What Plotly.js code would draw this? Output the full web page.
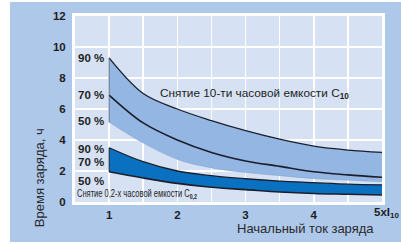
<!DOCTYPE html>
<html><head><meta charset="utf-8">
<script src="https://cdn.plot.ly/plotly-3.0.1.min.js"></script>
<style>
html,body{margin:0;padding:0;background:#ffffff;}
#chart{position:absolute;left:10px;top:2px;width:391px;height:240px;}
</style></head>
<body><div id="chart"></div>
<script>
// Initial charge current (multiples of I10)
const current = [1, 1.5, 2, 2.5, 3, 3.5, 4, 4.5, 5];
// Charge time, h — discharge of 10-hour capacity C10
const c10_90 = [9.3, 7.0, 6.0, 5.25, 4.6, 4.05, 3.6, 3.35, 3.2];
const c10_70 = [6.9, 5.1, 4.0, 3.2, 2.65, 2.3, 1.95, 1.75, 1.6];
const c10_50 = [5.15, 3.8, 2.75, 2.2, 1.9, 1.7, 1.5, 1.4, 1.3];
// Charge time, h — discharge of 0.2-hour capacity C0.2
const c02_90 = [3.5, 2.6, 2.0, 1.7, 1.5, 1.35, 1.25, 1.15, 1.1];
const c02_50 = [1.95, 1.55, 1.2, 0.95, 0.8, 0.65, 0.55, 0.5, 0.45];
// Axis ticks
const xTickVals = [1, 1.5, 2, 2.5, 3, 3.5, 4, 4.5, 5];
const xTickText = ['1', ' ', '2', ' ', '3', ' ', '4', ' ', ' '];
const yTickVals = [0, 2, 4, 6, 8, 10, 12];

const dark = '#1c1f2b';
const midBlue = '#93b6e2';
const brightBlue = '#0a70c0';

const traces = [
  {x: current, y: c10_50, mode: 'lines', line: {color: 'rgba(120,150,200,0.6)', width: 0.6, shape: 'spline'}, hoverinfo: 'skip'},
  {x: current, y: c10_90, mode: 'lines', fill: 'tonexty', fillcolor: midBlue, line: {color: dark, width: 1.3, shape: 'spline'}, hoverinfo: 'skip'},
  {x: current, y: c10_70, mode: 'lines', line: {color: dark, width: 1.6, shape: 'spline'}, hoverinfo: 'skip'},
  {x: current, y: c02_50, mode: 'lines', line: {color: dark, width: 1.6, shape: 'spline'}, hoverinfo: 'skip'},
  {x: current, y: c02_90, mode: 'lines', fill: 'tonexty', fillcolor: brightBlue, line: {color: dark, width: 1.3, shape: 'spline'}, hoverinfo: 'skip'},
  {x: [current[0], current[0]], y: [c10_50[0], c10_90[0]], mode: 'lines', line: {color: '#5a6a85', width: 1}, hoverinfo: 'skip'},
  {x: [current[0], current[0]], y: [c02_50[0], c02_90[0]], mode: 'lines', line: {color: dark, width: 1}, hoverinfo: 'skip'}
];

const lbl = (text, y) => ({xref: 'paper', yref: 'y', x: 0.004, y: y, xanchor: 'left', yanchor: 'middle', text: text, showarrow: false, font: {family: 'Liberation Sans, Arial, sans-serif', size: 11.5, color: '#1e1e1e', weight: 'bold'}});

const layout = {
  width: 391, height: 240,
  margin: {l: 65, r: 19, t: 14, b: 40},
  paper_bgcolor: '#aec8ea',
  plot_bgcolor: '#d6e2f3',
  showlegend: false,
  font: {family: 'Liberation Sans, Arial, sans-serif', color: '#1e1e1e'},
  xaxis: {range: [0.5, 5], tickvals: xTickVals, ticktext: xTickText, showgrid: true, gridcolor: '#ffffff', gridwidth: 1.5,
          zeroline: false, showline: true, linecolor: '#ffffff', linewidth: 3, mirror: true,
          ticks: '', tickfont: {size: 11.5, weight: 'bold', color: '#1e1e1e'}},
  yaxis: {range: [0, 12], tickvals: yTickVals, showgrid: true, gridcolor: '#ffffff', gridwidth: 1.5,
          zeroline: false, showline: true, linecolor: '#ffffff', linewidth: 3, mirror: true,
          ticks: 'outside', ticklen: 4, tickcolor: 'rgba(0,0,0,0)',
          tickfont: {size: 11.5, weight: 'bold', color: '#1e1e1e'}},
  annotations: [
    lbl('90 %', 9.3), lbl('70 %', 6.9), lbl('50 %', 5.2),
    lbl('90 %', 3.45), lbl('70 %', 2.6), lbl('50 %', 1.35),
    {xref: 'x', yref: 'y', x: 1.71, y: 7.0, xanchor: 'left', yanchor: 'middle', showarrow: false,
     text: 'Снятие 10-ти часовой емкости C<sub><b>10</b></sub>', font: {size: 11.8, color: '#1e1e1e'}},
    {xref: 'paper', yref: 'y', x: 0.0, y: 0.5, xanchor: 'left', yanchor: 'middle', showarrow: false,
     text: 'Снятие 0,2-х часовой емкости C<sub><b>0,2</b></sub>', font: {size: 10, color: '#1e1e1e'}},
    {xref: 'x', yref: 'paper', x: 4.86, y: -0.059, xanchor: 'left', yanchor: 'middle', showarrow: false,
     text: '<b>5xI<sub>10</sub></b>', font: {size: 11.5, color: '#1e1e1e'}},
    {xref: 'paper', yref: 'paper', x: 0.75, y: -0.145, xanchor: 'center', yanchor: 'middle', showarrow: false,
     text: 'Начальный ток заряда', font: {size: 13, color: '#2a2a2a'}},
    {xref: 'paper', yref: 'paper', x: -0.113, y: 0.13, xanchor: 'center', yanchor: 'middle', showarrow: false, textangle: -90,
     text: 'Время заряда, ч', font: {size: 13, color: '#2a2a2a'}}
  ]
};

Plotly.newPlot('chart', traces, layout, {staticPlot: true, displayModeBar: false}).then(function (gd) {
  // condense the small C0.2 caption like the original's narrow face
  gd.querySelectorAll('.annotation-text').forEach(function (t) {
    if (t.textContent.indexOf('0,2-х') >= 0) {
      var bb = t.getBBox();
      var w = 120;
      t.setAttribute('lengthAdjust', 'spacingAndGlyphs');
      t.setAttribute('textLength', w);
      var x0 = bb.x;
      t.setAttribute('text-anchor', 'start');
      t.setAttribute('x', x0);
    }
  });
});
</script>
</body></html>
